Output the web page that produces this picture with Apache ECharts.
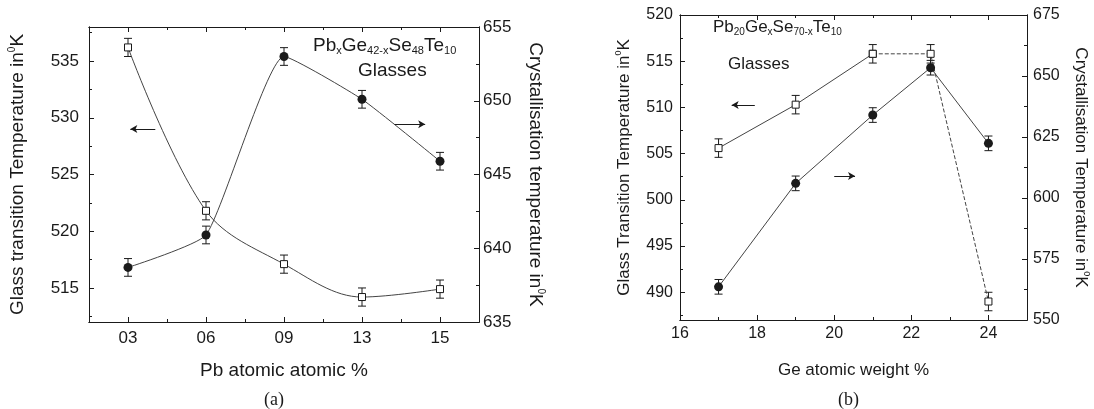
<!DOCTYPE html>
<html>
<head>
<meta charset="utf-8">
<title>Glass transition and crystallisation temperatures</title>
<script src="https://cdn.jsdelivr.net/npm/echarts@6/dist/echarts.min.js"></script>
<style>
  html, body { margin: 0; padding: 0; background: #fff; }
  #chart { width: 1094px; height: 409px; }
</style>
</head>
<body>
<div id="chart"></div>
<script>
  // (a) PbxGe42-xSe48Te10 -- x is the category position 1..5
  const pbLabels = ['03', '06', '09', '13', '15']
  const pbPos = [1, 2, 3, 4, 5]
  const tgA = [536.2, 521.8, 517.1, 514.2, 514.9]
  const tgErrA = [0.8, 0.8, 0.8, 0.8, 0.8]
  const tcA = [638.7, 640.9, 653.0, 650.1, 645.9]
  const tcErrA = [0.6, 0.6, 0.6, 0.6, 0.6]

  // (b) Pb20GexSe70-xTe10
  const geB = [17, 19, 21, 22.5, 24]
  const tgB = [505.6, 510.3, 515.8, 515.8, 489.0]
  const tgErrB = [1.0, 1.0, 1.0, 1.0, 1.0]
  const tcB = [563.6, 606.0, 634.0, 653.4, 622.4]
  const tcErrB = [3, 3, 3, 3, 3]

  // tick values
  const xTicksA = [1, 2, 3, 4, 5]
  const xMinorA = [1.5, 2.5, 3.5, 4.5]
  const yTicksA = [515, 520, 525, 530, 535]
  const yMinorA = [512.5, 517.5, 522.5, 527.5, 532.5, 537.5]
  const y2TicksA = [635, 640, 645, 650, 655]
  const y2MinorA = [637.5, 642.5, 647.5, 652.5]
  const xTicksB = [16, 18, 20, 22, 24]
  const xMinorB = [17, 19, 21, 23]
  const yTicksB = [490, 495, 500, 505, 510, 515, 520]
  const yMinorB = [487.5, 492.5, 497.5, 502.5, 507.5, 512.5, 517.5]
  const y2TicksB = [550, 575, 600, 625, 650, 675]
  const y2MinorB = [562.5, 587.5, 612.5, 637.5, 662.5]

  // arrows pointing to the axis each curve belongs to: [from, to]
  const arrowTgA = [[1.35, 529.0], [1.03, 529.0]]
  const arrowTcA = [[4.42, 648.4], [4.81, 648.4]]
  const arrowTgB = [[17.94, 510.25], [17.34, 510.25]]
  const arrowTcB = [[20.0, 609], [20.54, 609]]

  const FONT = 'Liberation Sans, Arial, sans-serif'
  const INK = '#1a1a1a'

  function ax(grid, pos, min, max, ticks, len, label, extra) {
    return Object.assign({
      type: 'value',
      gridIndex: grid,
      position: pos,
      min: min,
      max: max,
      splitLine: { show: false },
      axisLine: { show: true, onZero: false, lineStyle: { color: INK, width: 1 } },
      axisTick: { show: true, inside: true, length: len, customValues: ticks, lineStyle: { color: INK, width: 1 } },
      axisLabel: label ? Object.assign({ customValues: ticks, color: INK, fontFamily: FONT }, label) : { show: false }
    }, extra || {})
  }

  function axisName(size) {
    return {
      color: INK,
      fontFamily: FONT,
      fontSize: size,
      lineHeight: size + 3,
      rich: {
        sup: { fontFamily: FONT, fontSize: Math.round(size * 0.55), color: INK, verticalAlign: 'top', lineHeight: 6 }
      }
    }
  }

  function errorBar(params, api) {
    const x = api.value(0), y = api.value(1), e = api.value(2)
    const hi = api.coord([x, y + e])
    const lo = api.coord([x, y - e])
    const w = 4
    const style = { stroke: INK, lineWidth: 1 }
    return {
      type: 'group',
      children: [
        { type: 'line', shape: { x1: hi[0], y1: hi[1], x2: lo[0], y2: lo[1] }, style: style },
        { type: 'line', shape: { x1: hi[0] - w, y1: hi[1], x2: hi[0] + w, y2: hi[1] }, style: style },
        { type: 'line', shape: { x1: lo[0] - w, y1: lo[1], x2: lo[0] + w, y2: lo[1] }, style: style }
      ]
    }
  }

  function arrow(pair) {
    return {
      silent: true,
      animation: false,
      symbol: ['none', 'arrow'],
      symbolSize: [6, 7],
      label: { show: false },
      lineStyle: { color: INK, width: 1, type: 'solid' },
      data: [[{ coord: pair[0] }, { coord: pair[1] }]]
    }
  }

  const zip = (xs, ys) => xs.map((x, i) => [x, ys[i]])
  const zip3 = (xs, ys, es) => xs.map((x, i) => [x, ys[i], es[i]])

  const squareMark = { symbol: 'rect', symbolSize: 7, itemStyle: { color: '#fff', borderColor: INK, borderWidth: 1 } }
  const dotMark = { symbol: 'circle', symbolSize: 9, itemStyle: { color: INK } }
  const thin = { color: '#444', width: 1 }

  const chart = echarts.init(document.getElementById('chart'), null, { renderer: 'canvas' })

  chart.setOption({
    animation: false,
    backgroundColor: '#fff',
    grid: [
      { left: 89, top: 27, width: 390, height: 295, outerBoundsMode: 'none' },
      { left: 680, top: 15, width: 347, height: 305, outerBoundsMode: 'none' }
    ],
    xAxis: [
      ax(0, 'bottom', 0.5, 5.5, xTicksA, 5, { fontSize: 17, margin: 8, formatter: v => pbLabels[pbPos.indexOf(v)] }, {
        name: 'Pb atomic atomic %', nameLocation: 'middle', nameGap: 38, nameTextStyle: axisName(19)
      }),
      ax(0, 'bottom', 0.5, 5.5, xMinorA, 3, null),
      ax(0, 'top', 0.5, 5.5, xTicksA, 5, null),
      ax(0, 'top', 0.5, 5.5, xMinorA, 3, null),
      ax(1, 'bottom', 16, 25, xTicksB, 5, { fontSize: 16, margin: 6 }, {
        name: 'Ge atomic weight %', nameLocation: 'middle', nameGap: 40, nameTextStyle: axisName(17)
      }),
      ax(1, 'bottom', 16, 25, xMinorB, 3, null),
      ax(1, 'top', 16, 25, xTicksB, 5, null),
      ax(1, 'top', 16, 25, xMinorB, 3, null)
    ],
    yAxis: [
      ax(0, 'left', 512, 538, yTicksA, 5, { fontSize: 17, margin: 10 }, {
        name: 'Glass transition Temperature in{sup|0}K', nameLocation: 'middle', nameGap: 60, nameRotate: 90,
        nameTextStyle: axisName(19)
      }),
      ax(0, 'left', 512, 538, yMinorA, 3, null),
      ax(0, 'right', 635, 655, y2TicksA, 5, { fontSize: 17, margin: 4 }, {
        name: 'Crystallisation temperature in{sup|0}K', nameLocation: 'middle', nameGap: 45, nameRotate: -90,
        nameTextStyle: axisName(19)
      }),
      ax(0, 'right', 635, 655, y2MinorA, 3, null),
      ax(1, 'left', 487, 520, yTicksB, 5, { fontSize: 16, margin: 7 }, {
        name: 'Glass Transition Temperature in{sup|0}K', nameLocation: 'middle', nameGap: 46, nameRotate: 90,
        nameTextStyle: axisName(17)
      }),
      ax(1, 'left', 487, 520, yMinorB, 3, null),
      ax(1, 'right', 550, 675, y2TicksB, 5, { fontSize: 16, margin: 6 }, {
        name: 'Crystallisation Temperature in{sup|0}K', nameLocation: 'middle', nameGap: 44, nameRotate: -90,
        nameTextStyle: axisName(17)
      }),
      ax(1, 'right', 550, 675, y2MinorB, 3, null)
    ],
    series: [
      // (a) error bars under the markers
      { type: 'custom', xAxisIndex: 0, yAxisIndex: 0, renderItem: errorBar, data: zip3(pbPos, tgA, tgErrA), z: 1, silent: true },
      { type: 'custom', xAxisIndex: 0, yAxisIndex: 2, renderItem: errorBar, data: zip3(pbPos, tcA, tcErrA), z: 1, silent: true },
      Object.assign({
        name: 'Tg (a)', type: 'line', xAxisIndex: 0, yAxisIndex: 0, smooth: 0.35,
        data: zip(pbPos, tgA), lineStyle: thin, z: 3, markLine: arrow(arrowTgA)
      }, squareMark),
      Object.assign({
        name: 'Tc (a)', type: 'line', xAxisIndex: 0, yAxisIndex: 2, smooth: 0.15,
        data: zip(pbPos, tcA), lineStyle: thin, z: 3, markLine: arrow(arrowTcA)
      }, dotMark),

      // (b)
      { type: 'custom', xAxisIndex: 4, yAxisIndex: 4, renderItem: errorBar, data: zip3(geB, tgB, tgErrB), z: 1, silent: true },
      { type: 'custom', xAxisIndex: 4, yAxisIndex: 6, renderItem: errorBar, data: zip3(geB, tcB, tcErrB), z: 1, silent: true },
      Object.assign({
        name: 'Tg (b)', type: 'line', xAxisIndex: 4, yAxisIndex: 4,
        data: zip(geB, tgB).slice(0, 3), lineStyle: thin, z: 3, markLine: arrow(arrowTgB)
      }, squareMark),
      Object.assign({
        name: 'Tg (b) dashed', type: 'line', xAxisIndex: 4, yAxisIndex: 4,
        data: zip(geB, tgB).slice(2), lineStyle: Object.assign({ type: [4, 2] }, thin), z: 3
      }, squareMark),
      Object.assign({
        name: 'Tc (b)', type: 'line', xAxisIndex: 4, yAxisIndex: 6,
        data: zip(geB, tcB), lineStyle: thin, z: 3, markLine: arrow(arrowTcB)
      }, dotMark)
    ],
    graphic: [
      {
        type: 'text', left: 313, top: 36, silent: true,
        style: {
          text: '{m|Pb}{s|x}{m|Ge}{s|42-x}{m|Se}{s|48}{m|Te}{s|10}',
          rich: {
            m: { fontFamily: FONT, fontSize: 19, lineHeight: 22, fill: INK },
            s: { fontFamily: FONT, fontSize: 11, lineHeight: 6, verticalAlign: 'bottom', fill: INK }
          }
        }
      },
      { type: 'text', left: 358, top: 61, silent: true, style: { text: 'Glasses', fontFamily: FONT, fontSize: 19, fill: INK } },
      {
        type: 'text', left: 713, top: 19, silent: true,
        style: {
          text: '{m|Pb}{s|20}{m|Ge}{s|x}{m|Se}{s|70-x}{m|Te}{s|10}',
          rich: {
            m: { fontFamily: FONT, fontSize: 17, lineHeight: 20, fill: INK },
            s: { fontFamily: FONT, fontSize: 10, lineHeight: 6, verticalAlign: 'bottom', fill: INK }
          }
        }
      },
      { type: 'text', left: 728, top: 56, silent: true, style: { text: 'Glasses', fontFamily: FONT, fontSize: 17, fill: INK } },
      { type: 'text', left: 264, top: 391, silent: true, style: { text: '(a)', fontFamily: 'Liberation Serif, serif', fontSize: 18, fill: INK } },
      { type: 'text', left: 838, top: 391, silent: true, style: { text: '(b)', fontFamily: 'Liberation Serif, serif', fontSize: 18, fill: INK } }
    ]
  })
</script>
</body>
</html>
